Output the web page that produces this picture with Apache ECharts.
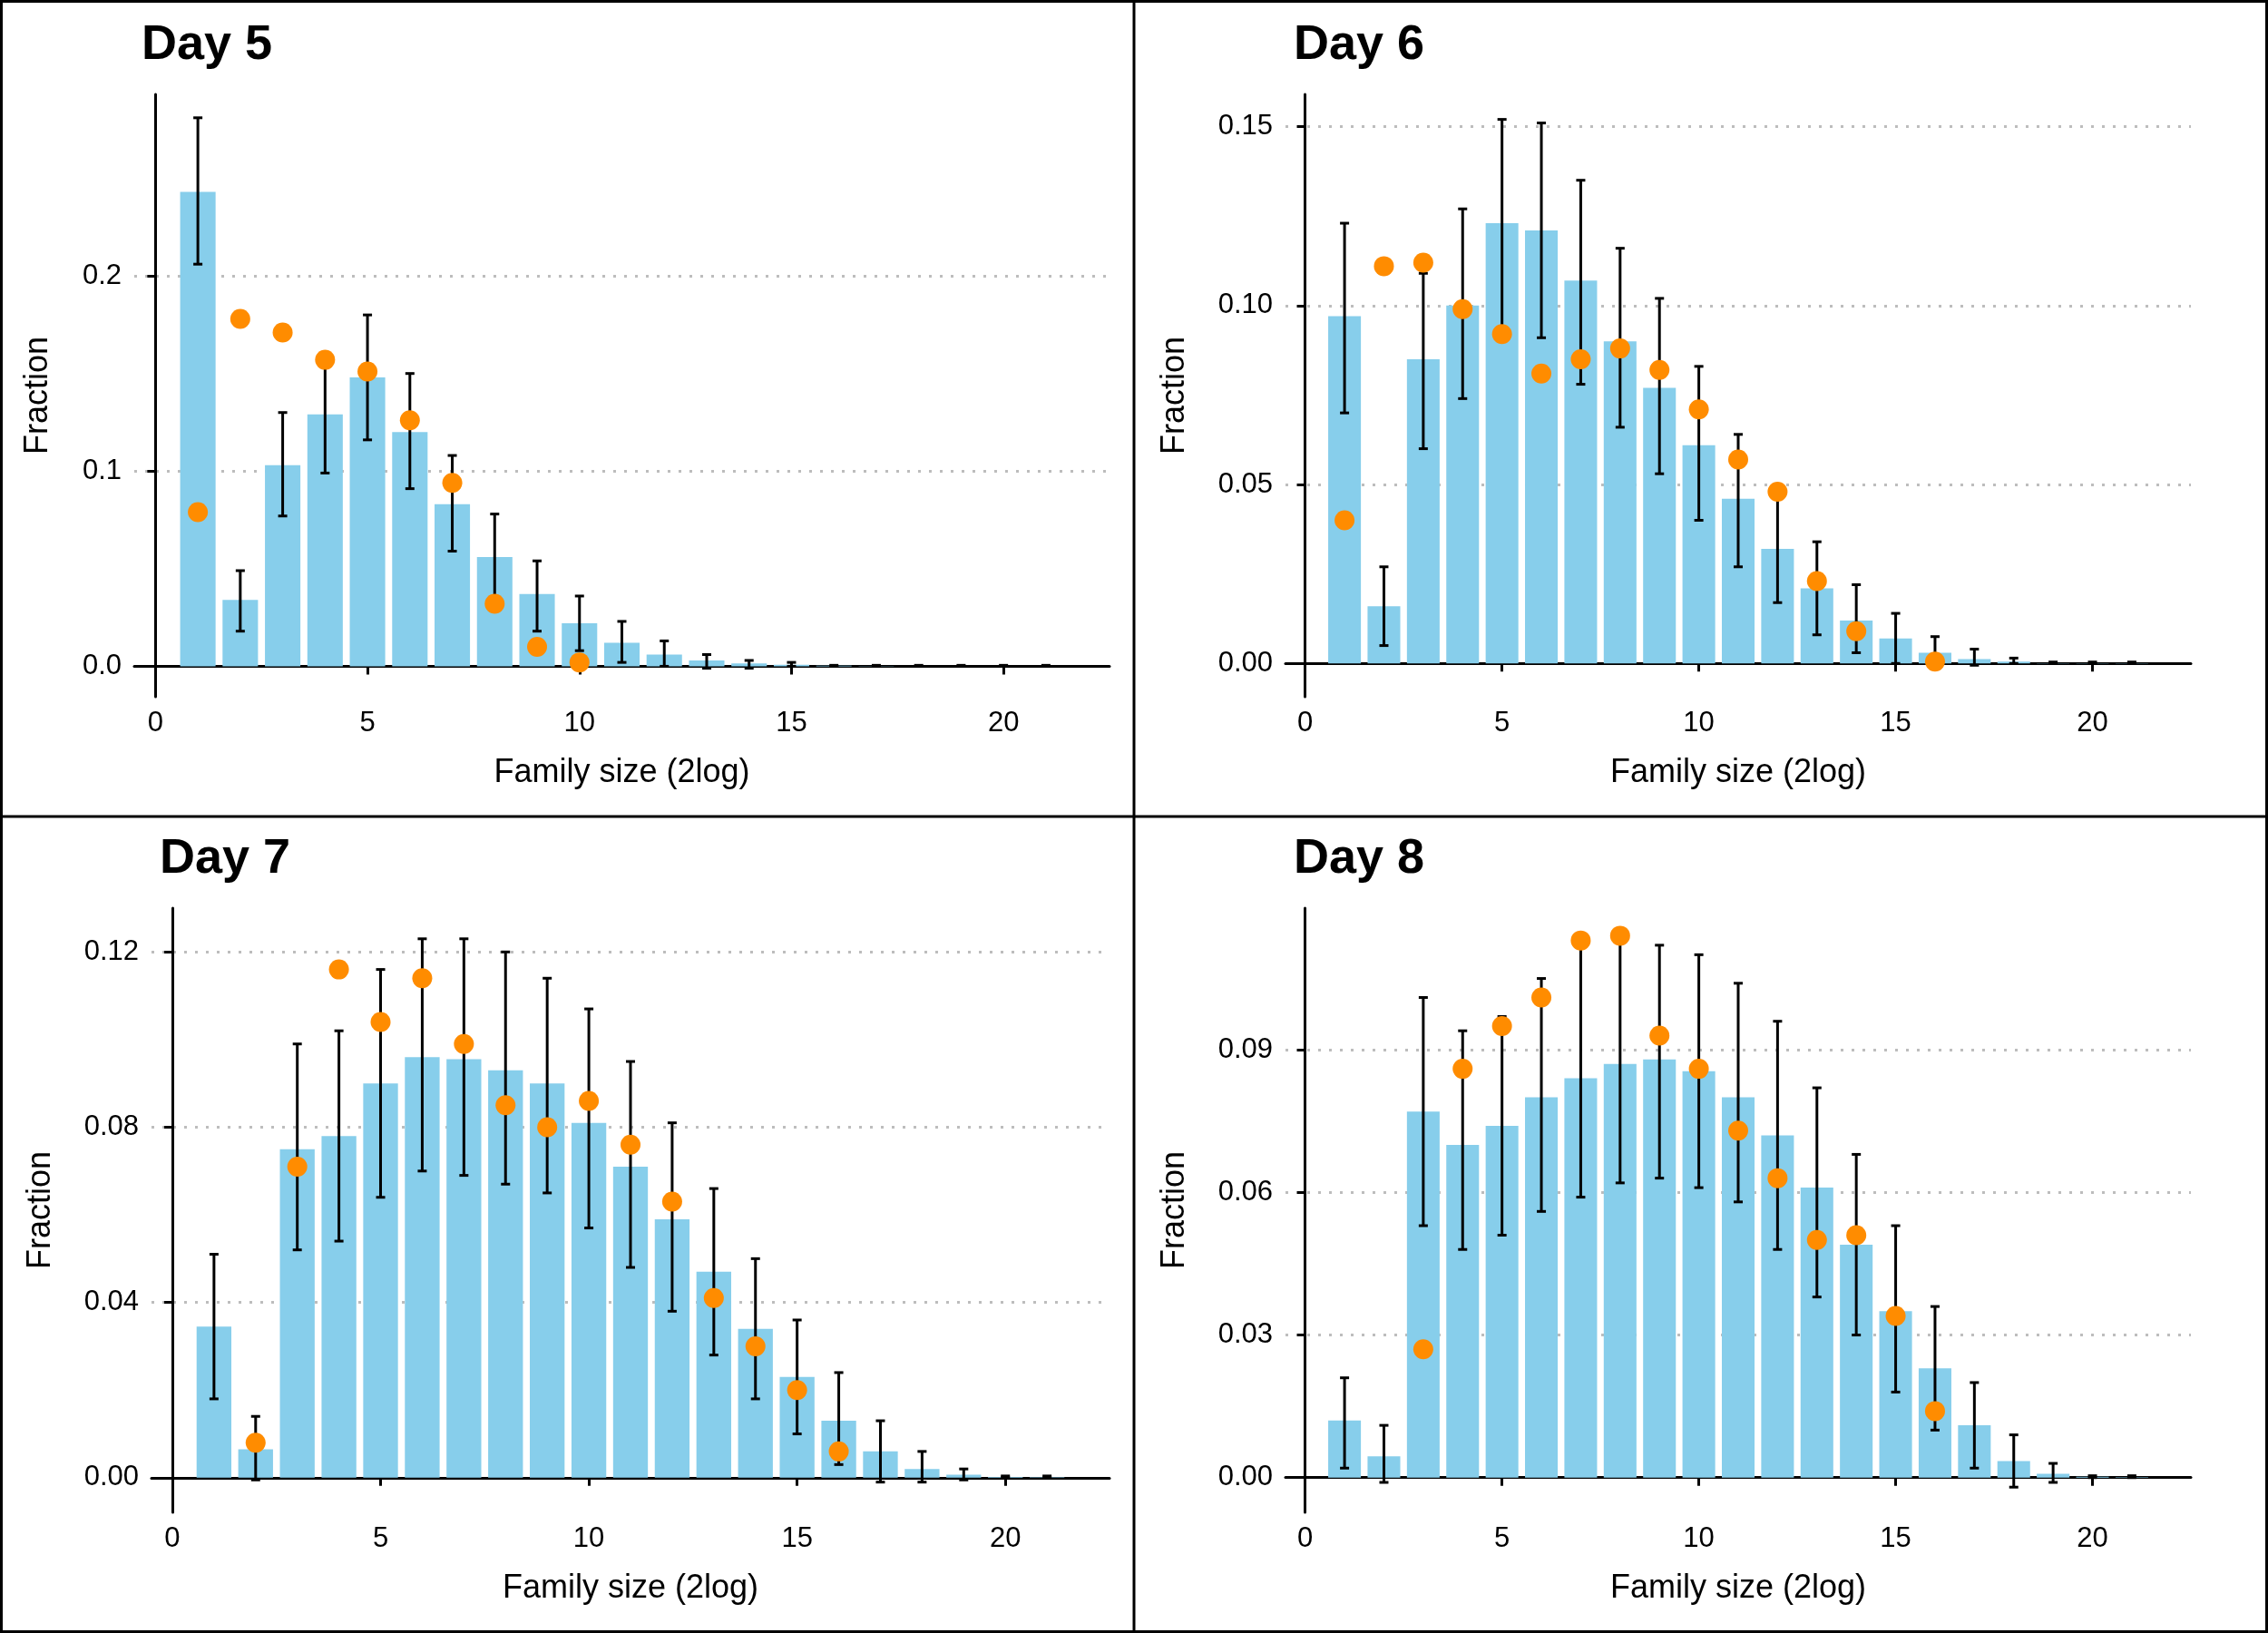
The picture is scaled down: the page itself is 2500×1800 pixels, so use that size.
<!DOCTYPE html>
<html>
<head>
<meta charset="UTF-8">
<title>Family size</title>
<script src="https://cdn.jsdelivr.net/npm/echarts@6/dist/echarts.min.js"></script>
<style>
html,body{margin:0;width:100%;height:100%;background:#fff;}
#chart{width:2500px;height:1800px;}
</style>
</head>
<body>
<div id="chart"></div>
<script>
var sizes = [1,2,3,4,5,6,7,8,9,10,11,12,13,14,15,16,17,18,19,20,21];

var day5Bars = [0.243,0.034,0.103,0.129,0.148,0.120,0.083,0.056,0.037,0.022,0.012,0.006,0.003,0.0015,0.0008,0.0003,0.0001,0,0,0,0];
var day5Low  = [0.206,0.018,0.077,0.099,0.116,0.091,0.059,0.032,0.018,0.008,0.002,0,-0.001,-0.001,0,0,0,0,0,0,0];
var day5High = [0.281,0.049,0.130,0.158,0.180,0.150,0.108,0.078,0.054,0.036,0.023,0.013,0.006,0.003,0.002,0.0005,0.0005,0.0005,0.0005,0.0005,0.0005];
var day5Dots = [0.079,0.178,0.171,0.157,0.151,0.126,0.094,0.032,0.010,0.002,null,null,null,null,null,null,null,null,null,null,null];

var day6Bars = [0.097,0.016,0.085,0.100,0.123,0.121,0.107,0.090,0.077,0.061,0.046,0.032,0.021,0.012,0.007,0.003,0.0012,0.0005,0.0001,0.0001,0.0001];
var day6Low  = [0.070,0.005,0.060,0.074,0.093,0.091,0.078,0.066,0.053,0.040,0.027,0.017,0.008,0.003,0,-0.0005,-0.0005,0,0,0,0];
var day6High = [0.123,0.027,0.109,0.127,0.152,0.151,0.135,0.116,0.102,0.083,0.064,0.048,0.034,0.022,0.014,0.0075,0.004,0.0015,0.0004,0.0004,0.0004];
var day6Dots = [0.040,0.111,0.112,0.099,0.092,0.081,0.085,0.088,0.082,0.071,0.057,0.048,0.023,0.009,null,0.0005,null,null,null,null,null];

var day7Bars = [0.0345,0.0065,0.075,0.078,0.090,0.096,0.0955,0.093,0.090,0.081,0.071,0.059,0.047,0.034,0.023,0.013,0.006,0.002,0.0007,0.0002,0.0001];
var day7Low  = [0.018,-0.0005,0.052,0.054,0.064,0.070,0.069,0.067,0.065,0.057,0.048,0.038,0.028,0.018,0.010,0.003,-0.001,-0.001,-0.0005,0,0];
var day7High = [0.051,0.014,0.099,0.102,0.116,0.123,0.123,0.120,0.114,0.107,0.095,0.081,0.066,0.050,0.036,0.024,0.013,0.006,0.002,0.0004,0.0004];
var day7Dots = [null,0.008,0.071,0.116,0.104,0.114,0.099,0.085,0.080,0.086,0.076,0.063,0.041,0.030,0.020,0.006,null,null,null,null,null];

var day8Bars = [0.012,0.0045,0.077,0.070,0.074,0.080,0.084,0.087,0.088,0.0855,0.080,0.072,0.061,0.049,0.035,0.023,0.011,0.0035,0.0008,0.0002,0.0001];
var day8Low  = [0.002,-0.001,0.053,0.048,0.051,0.056,0.059,0.062,0.063,0.061,0.058,0.048,0.038,0.030,0.018,0.010,0.002,-0.002,-0.001,0,0];
var day8High = [0.021,0.011,0.101,0.094,0.097,0.105,0.112,0.114,0.112,0.110,0.104,0.096,0.082,0.068,0.053,0.036,0.020,0.009,0.003,0.0004,0.0004];
var day8Dots = [null,null,0.027,0.086,0.095,0.101,0.113,0.114,0.093,0.086,0.073,0.063,0.050,0.051,0.034,0.014,null,null,null,null,null];

var xTicks = [0,5,10,15,20];

var panels = [
  {title:'Day 5', bars:day5Bars, low:day5Low, high:day5High, dots:day5Dots, yMin:-0.0156, yMax:0.293, yTicks:[0,0.1,0.2], dec:1,
   grid:{left:148,top:104,width:1075,height:664}, tx:151},
  {title:'Day 6', bars:day6Bars, low:day6Low, high:day6High, dots:day6Dots, yMin:-0.0093, yMax:0.159, yTicks:[0,0.05,0.10,0.15], dec:2,
   grid:{left:1417,top:104,width:998,height:664}, tx:1421},
  {title:'Day 7', bars:day7Bars, low:day7Low, high:day7High, dots:day7Dots, yMin:-0.0079, yMax:0.130, yTicks:[0,0.04,0.08,0.12], dec:2,
   grid:{left:167,top:1001,width:1056,height:666}, tx:171},
  {title:'Day 8', bars:day8Bars, low:day8Low, high:day8High, dots:day8Dots, yMin:-0.0073, yMax:0.1198, yTicks:[0,0.03,0.06,0.09], dec:2,
   grid:{left:1417,top:1001,width:998,height:666}, tx:1421}
];

var font = 'Liberation Sans, Arial, sans-serif';
var option = {animation:false, backgroundColor:'#fff', grid:[], xAxis:[], yAxis:[], series:[], title:[], graphic:[]};

panels.forEach(function(p, i){
  option.grid.push(p.grid);
  option.title.push({text:p.title, left:p.tx, top:p.grid.top - 86,
    textStyle:{fontFamily:font, fontWeight:'bold', fontSize:54, color:'#000'}});
  option.xAxis.push({type:'value', gridIndex:i, min:-0.5, max:22.5,
    name:'Family size (2log)', nameLocation:'middle', nameGap:66,
    nameTextStyle:{fontFamily:font, fontSize:36, color:'#000'},
    axisLine:{show:true, lineStyle:{color:'#000', width:3}},
    axisTick:{show:true, length:9, lineStyle:{color:'#000', width:3}, customValues:xTicks},
    axisLabel:{fontFamily:font, fontSize:31, color:'#000', margin:14, customValues:xTicks},
    splitLine:{show:false}});
  option.yAxis.push({type:'value', gridIndex:i, min:p.yMin, max:p.yMax,
    name:'Fraction', nameLocation:'middle', nameGap:p.dec === 1 ? 88 : 104,
    nameTextStyle:{fontFamily:font, fontSize:36, color:'#000'},
    axisLine:{show:true, lineStyle:{color:'#000', width:3}},
    axisTick:{show:true, length:9, lineStyle:{color:'#000', width:3}, customValues:p.yTicks},
    axisLabel:{fontFamily:font, fontSize:31, color:'#000', margin:14, customValues:p.yTicks,
      formatter:function(v){ return v.toFixed(p.dec); }},
    splitLine:{show:true, lineStyle:{color:'#bdbdbd', width:3, type:[3,9]}}});

  var barData = sizes.map(function(s, k){ return [s, p.bars[k]]; });
  option.series.push({type:'custom', xAxisIndex:i, yAxisIndex:i, data:barData,
    renderItem:function(params, api){
      var x = api.value(0), y = api.value(1);
      var a = api.coord([x - 0.45, y]);
      var b = api.coord([x + 0.45, 0]);
      return {type:'rect', shape:{x:a[0] + 1.5, y:a[1], width:b[0] - a[0] - 3, height:b[1] - a[1]},
        style:{fill:'#87CEEB'}};
    }});

  var errData = sizes.map(function(s, k){ return [s, p.low[k], p.high[k]]; });
  option.series.push({type:'custom', xAxisIndex:i, yAxisIndex:i, data:errData, z:3,
    renderItem:function(params, api){
      var x = api.value(0);
      var lo = api.coord([x, api.value(1)]);
      var hi = api.coord([x, api.value(2)]);
      var w = 5;
      var st = {stroke:'#000', lineWidth:3};
      return {type:'group', children:[
        {type:'line', shape:{x1:lo[0], y1:lo[1], x2:hi[0], y2:hi[1]}, style:st},
        {type:'line', shape:{x1:lo[0] - w, y1:lo[1], x2:lo[0] + w, y2:lo[1]}, style:st},
        {type:'line', shape:{x1:hi[0] - w, y1:hi[1], x2:hi[0] + w, y2:hi[1]}, style:st}
      ]};
    }});

  var dotData = [];
  sizes.forEach(function(s, k){ if (p.dots[k] !== null) dotData.push([s, p.dots[k]]); });
  option.series.push({type:'scatter', xAxisIndex:i, yAxisIndex:i, data:dotData, z:4,
    symbolSize:22, itemStyle:{color:'#FF8C00', opacity:1}});
});

// panel frames
option.graphic = [
  {type:'rect', shape:{x:1.5, y:1.5, width:2497, height:1797}, style:{fill:null, stroke:'#000', lineWidth:3}},
  {type:'line', shape:{x1:1250, y1:0, x2:1250, y2:1800}, style:{stroke:'#000', lineWidth:3}},
  {type:'line', shape:{x1:0, y1:900, x2:2500, y2:900}, style:{stroke:'#000', lineWidth:3}}
];

var chart = echarts.init(document.getElementById('chart'));
chart.setOption(option);
</script>
</body>
</html>
